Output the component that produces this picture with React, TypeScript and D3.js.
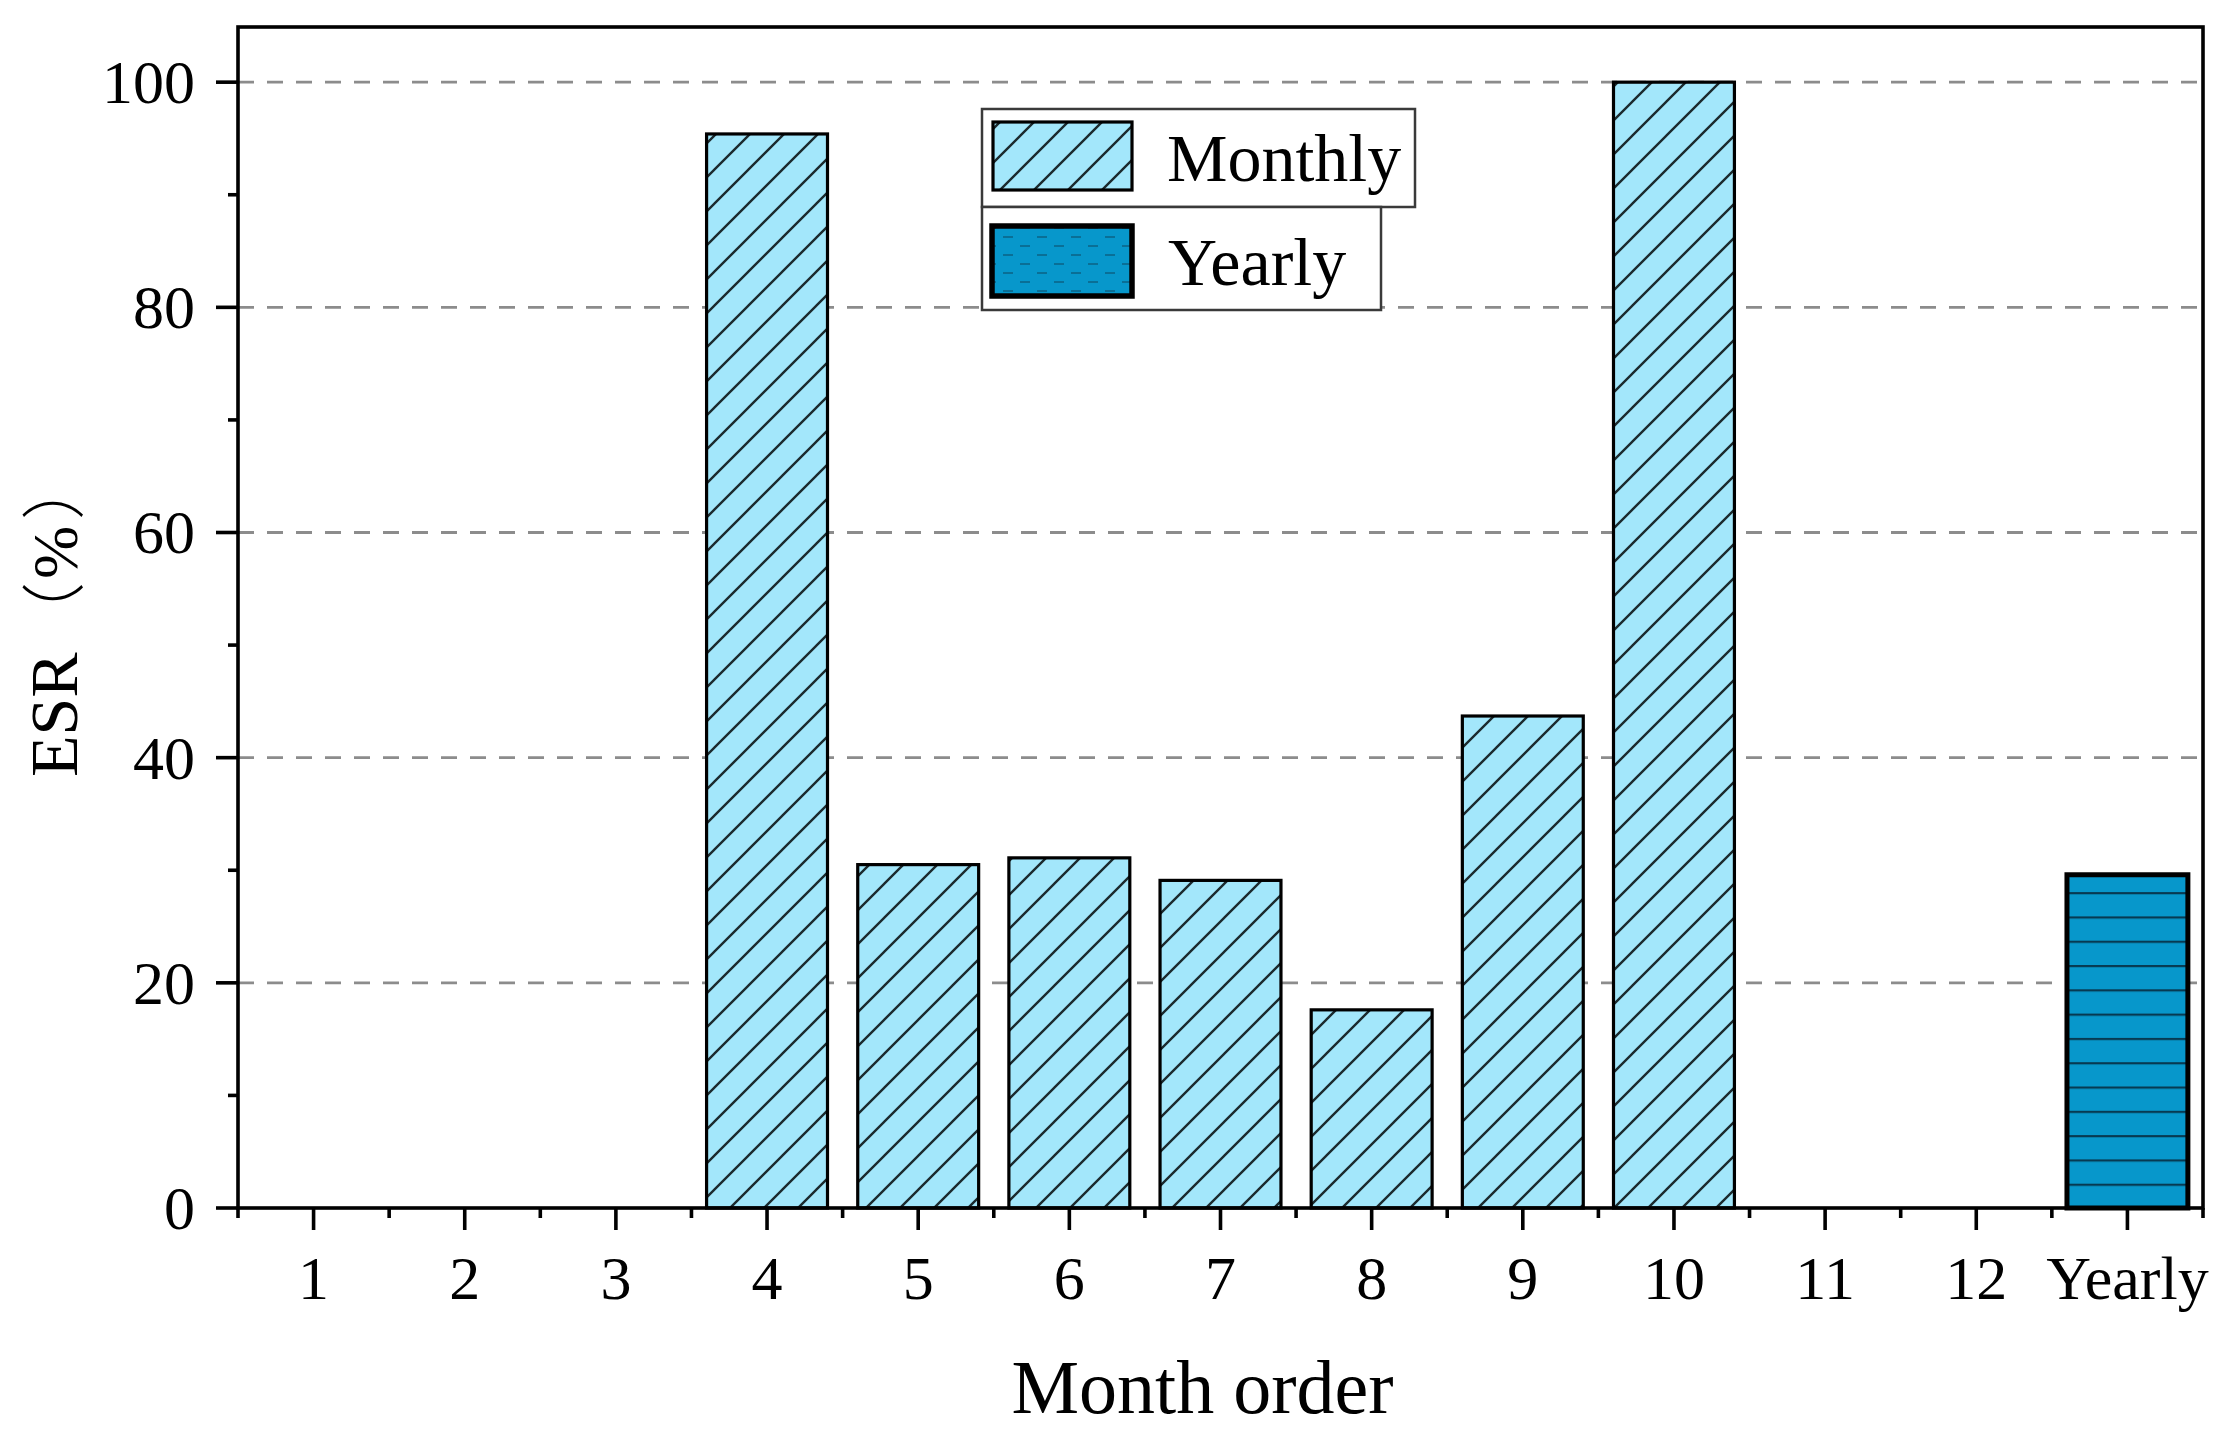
import React from 'react';
import * as d3 from 'd3';

const categories = ['1', '2', '3', '4', '5', '6', '7', '8', '9', '10', '11', '12', 'Yearly'];
const monthlyValues = [0, 0, 0, 95.4, 30.5, 31.1, 29.1, 17.6, 43.7, 100, 0, 0];
const yearlyValue = 29.6;
const yTicks = [0, 20, 40, 60, 80, 100];
const yMinorTicks = [10, 30, 50, 70, 90];
const xLabel = 'Month order';
const yLabelMain = 'ESR';
const legendLabels = ['Monthly', 'Yearly'];

const W = 2232;
const H = 1435;
const left = 238;
const right = 2203;
const top = 27;
const bottom = 1208;

const FONT = '"Liberation Serif", "Times New Roman", serif';
const CJK = '"Noto Sans CJK SC", "Noto Sans CJK JP", sans-serif';
const MONTH_FILL = '#a3e7fb';
const YEAR_FILL = '#0797cb';

export default function App() {
  const x = d3.scaleLinear().domain([0.5, categories.length + 0.5]).range([left, right]);
  const y = d3.scaleLinear().domain([0, 104.9]).range([bottom, top]);
  const step = x(2) - x(1);
  const bw = step * 0.8;

  const minorX = d3.range(0, categories.length + 1).map((i) => i + 0.5);

  return (
    <svg
      width={W}
      height={H}
      style={{ position: 'absolute', left: 0, top: 0, display: 'block', background: '#fff' }}
      fontFamily={FONT}
    >
      <defs>
        <pattern id="hatchM" patternUnits="userSpaceOnUse" width={34} height={34} x={0} y={0}>
          <rect width={34} height={34} fill={MONTH_FILL} />
          <path d="M0,34 L34,0 M-8.5,8.5 L8.5,-8.5 M25.5,42.5 L42.5,25.5" stroke="#1b2a2e" strokeWidth={2.4} />
        </pattern>
        <pattern id="hatchY" patternUnits="userSpaceOnUse" width={40} height={24.3} y={bottom}>
          <rect width={40} height={24.3} fill={YEAR_FILL} />
          <line x1={0} x2={40} y1={1} y2={1} stroke="#073a52" strokeWidth={2.4} />
        </pattern>
        <pattern id="hatchYL" patternUnits="userSpaceOnUse" width={34} height={18}>
          <rect width={34} height={18} fill={YEAR_FILL} />
          <path d="M0,12 L10,12 M17,3 L27,3" stroke="#0a6f96" strokeWidth={2} />
        </pattern>
      </defs>

      <rect x={0} y={0} width={W} height={H} fill="#fff" />

      {/* grid lines */}
      {yTicks.filter((t) => t > 0).map((t) => (
        <line
          key={'g' + t}
          x1={left}
          x2={right}
          y1={y(t)}
          y2={y(t)}
          stroke="#8c8c8c"
          strokeWidth={2.8}
          strokeDasharray="16 13"
        />
      ))}

      {/* monthly bars */}
      {monthlyValues.map((v, i) =>
        v > 0 ? (
          <rect
            key={'m' + i}
            x={x(i + 1) - bw / 2}
            y={y(v)}
            width={bw}
            height={y(0) - y(v)}
            fill="url(#hatchM)"
            stroke="#000"
            strokeWidth={3.2}
          />
        ) : null
      )}

      {/* yearly bar */}
      <rect
        x={x(categories.length) - bw / 2}
        y={y(yearlyValue)}
        width={bw}
        height={y(0) - y(yearlyValue)}
        fill="url(#hatchY)"
        stroke="#000"
        strokeWidth={5}
      />

      {/* frame */}
      <rect x={left} y={top} width={right - left} height={bottom - top} fill="none" stroke="#000" strokeWidth={3.6} />

      {/* y ticks */}
      {yTicks.map((t) => (
        <g key={'yt' + t}>
          <line x1={left - 22} x2={left} y1={y(t)} y2={y(t)} stroke="#000" strokeWidth={3.6} />
          <text x={195} y={y(t) + 21} textAnchor="end" fontSize={62} fill="#000">
            {t}
          </text>
        </g>
      ))}
      {yMinorTicks.map((t) => (
        <line key={'ym' + t} x1={left - 10} x2={left} y1={y(t)} y2={y(t)} stroke="#000" strokeWidth={3.6} />
      ))}

      {/* x ticks */}
      {categories.map((c, i) => (
        <g key={'xt' + c}>
          <line x1={x(i + 1)} x2={x(i + 1)} y1={bottom} y2={bottom + 22} stroke="#000" strokeWidth={3.6} />
          <text x={x(i + 1)} y={1299} textAnchor="middle" fontSize={62} fill="#000">
            {c}
          </text>
        </g>
      ))}
      {minorX.map((v) => (
        <line key={'xm' + v} x1={x(v)} x2={x(v)} y1={bottom} y2={bottom + 10} stroke="#000" strokeWidth={3.6} />
      ))}

      {/* axis titles */}
      <text x={(left + right) / 2 - 18} y={1413} textAnchor="middle" fontSize={76} fill="#000">
        {xLabel}
      </text>
      <text transform={`translate(77, 777) rotate(-90)`} textAnchor="start" fontSize={68} fill="#000">
        <tspan x={0}>{yLabelMain}</tspan>
        <tspan x={131} fontFamily={CJK} fontSize={64} fontWeight={300}>（</tspan>
        <tspan x={198} fontSize={64}>%</tspan>
        <tspan x={257} fontFamily={CJK} fontSize={64} fontWeight={300}>）</tspan>
      </text>

      {/* legend */}
      <g>
        <rect x={982} y={109} width={433} height={98} fill="#fff" stroke="#3a3a3a" strokeWidth={2.5} />
        <rect x={982} y={207} width={399} height={103} fill="#fff" stroke="#3a3a3a" strokeWidth={2.5} />
        <rect x={993} y={122} width={139} height={68} fill="url(#hatchM)" stroke="#000" strokeWidth={3.2} />
        <text x={1167} y={181} fontSize={68} fill="#000">
          {legendLabels[0]}
        </text>
        <rect x={992} y={226} width={140} height={70} fill="url(#hatchYL)" stroke="#000" strokeWidth={5.5} />
        <text x={1168} y={285} fontSize={68} fill="#000">
          {legendLabels[1]}
        </text>
      </g>
    </svg>
  );
}
